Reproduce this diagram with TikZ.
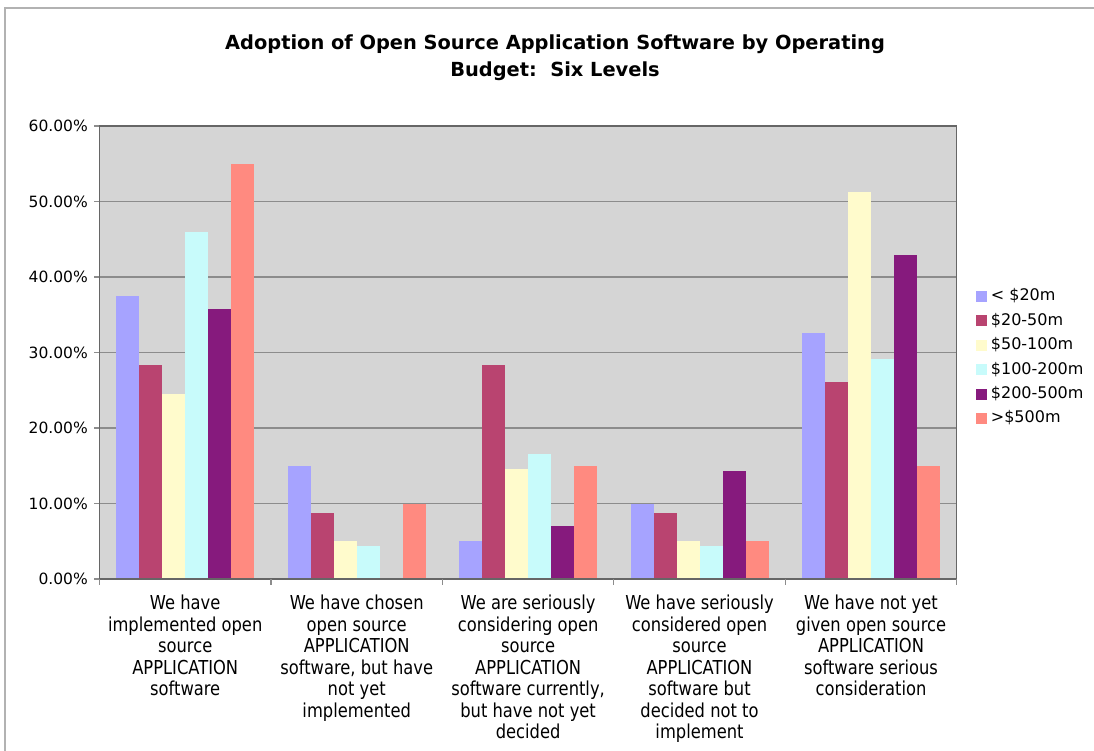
\documentclass[tikz,border=0pt]{standalone}
\usepackage{fontspec}
\setmainfont{DejaVu Sans}
\newfontfamily\catfont[FakeStretch=0.85]{DejaVu Sans}
\usetikzlibrary{positioning}

% series colours, one per budget band
\definecolor{bud1}{HTML}{A6A3FF}
\definecolor{bud2}{HTML}{B94470}
\definecolor{bud3}{HTML}{FFFBCC}
\definecolor{bud4}{HTML}{C8FBFB}
\definecolor{bud5}{HTML}{861A7D}
\definecolor{bud6}{HTML}{FF8A80}
\definecolor{plotbg}{HTML}{D5D5D5}
\definecolor{gridc}{HTML}{8C8C8C}

\begin{document}
\begin{tikzpicture}[x=1pt,y=-1pt,
  ttl/.style={align=center, inner sep=0pt,
              font=\fontsize{19.4}{27}\selectfont\bfseries},
  tick/.style={anchor=east, inner sep=0pt, font=\fontsize{15.5}{18}\selectfont},
  cat/.style={anchor=north, align=center, inner sep=0pt,
              font=\catfont\fontsize{19.2}{21.5}\selectfont},
  swatch/.style={minimum size=11pt, inner sep=0pt},
  key/.style={right=4pt of #1, inner sep=0pt, font=\fontsize{16}{18}\selectfont},
  gridline/.style={draw=gridc, line width=1.2pt}]
\useasboundingbox (0,0) rectangle (1094,751);
% ---- outer frame and title ----
\draw[gray!60, line width=2pt] (5,751) -- (5,8) -- (1094,8);
\node[ttl] (title) at (555,57.5)
  {Adoption of Open Source Application Software by Operating\\Budget:\ \ Six Levels};
% ---- plot area: 0% at y=579, 10% = 75.5 ----
\fill[plotbg] (99.5,126) rectangle (956.7,579);
\foreach \p in {1,...,5}
  \draw[gridline] (99.5,{579-75.5*\p}) -- (956.7,{579-75.5*\p});
\foreach \lbl [count=\p from 0] in {0.00,10.00,20.00,30.00,40.00,50.00,60.00} {
  \draw[gridline] (94,{579-75.5*\p}) -- (99.5,{579-75.5*\p});
  \node[tick] (y\p) at (88,{579-75.5*\p}) {\lbl\%};
}
% ---- bars, six per answer ----
\foreach \g/\vals in {0/{37.5,28.3,24.5,45.9,35.7,55.0},
                      1/{15.0,8.7,5.0,4.4,0,10.0},
                      2/{5.0,28.3,14.6,16.5,7.0,15.0},
                      3/{10.0,8.7,5.0,4.4,14.3,5.0},
                      4/{32.6,26.1,51.3,29.2,42.9,15.0}}
  \foreach \v [count=\k] in \vals
    \fill[bud\k] ({116.2+171.44*\g+23*(\k-1)},579) rectangle ++(23,{-7.55*\v});
\draw[gray!80!black, line width=1.2pt] (99.5,126) rectangle (956.7,579);
\foreach \g in {0,...,5}
  \draw[gridline] ({99.5+171.44*\g},579) -- ++(0,6);
% ---- answer labels ----
\node[cat] (c1) at (185.2,595) {We have\\implemented open\\source\\APPLICATION\\software};
\node[cat] (c2) at (356.7,595) {We have chosen\\open source\\APPLICATION\\software, but have\\not yet\\implemented};
\node[cat] (c3) at (528.1,595) {We are seriously\\considering open\\source\\APPLICATION\\software currently,\\but have not yet\\decided};
\node[cat] (c4) at (699.5,595) {We have seriously\\considered open\\source\\APPLICATION\\software but\\decided not to\\implement};
\node[cat] (c5) at (871.0,595) {We have not yet\\given open source\\APPLICATION\\software serious\\consideration};
% ---- legend ----
\node[swatch, fill=bud1] (k1) at (981,296) {};
\node[swatch, fill=bud2] (k2) at (981,320.5) {};
\node[swatch, fill=bud3] (k3) at (981,345) {};
\node[swatch, fill=bud4] (k4) at (981,369.5) {};
\node[swatch, fill=bud5] (k5) at (981,394) {};
\node[swatch, fill=bud6] (k6) at (981,418) {};
\node[key=k1] (t1) {< \$20m};
\node[key=k2] (t2) {\$20-50m};
\node[key=k3] (t3) {\$50-100m};
\node[key=k4] (t4) {\$100-200m};
\node[key=k5] (t5) {\$200-500m};
\node[key=k6] (t6) {>\$500m};
\end{tikzpicture}
\end{document}
